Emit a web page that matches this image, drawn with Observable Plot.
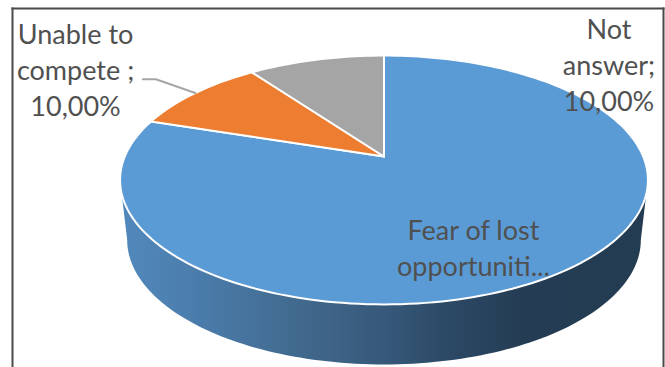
<!DOCTYPE html>
<html>
<head>
<meta charset="utf-8">
<script src="https://cdn.jsdelivr.net/npm/d3@7"></script>
<script src="https://cdn.jsdelivr.net/npm/@observablehq/plot@0.6"></script>
<style>
  html, body { margin: 0; padding: 0; background: #fff; overflow: hidden; }
  svg { display: block; }
</style>
</head>
<body>
<div id="chart"></div>
<script>
// Survey answers, in the order the slices run clockwise from twelve o'clock.
const categories = ["Fear of lost opportunities", "Unable to compete", "Not answer"];
const shares = [80, 10, 10];
const sliceColors = ["#5b9bd5", "#ed7d31", "#a5a5a5"];
const labelTexts = ["Fear of lost\nopportuniti...", "Unable to\ncompete ;\n10,00%", "Not\nanswer;\n10,00%"];

// Tilted-disc projection, in pie units (radius 1 before foreshortening).
const tilt = 0.1888;
const wallDrop = 0.5;
const wallShrink = 0.973;
const rim = (f, drop = 0, shrink = 1) => {
  const a = f * 2 * Math.PI;
  const d = 1 + tilt * Math.cos(a);
  return {x: shrink * Math.sin(a) / d, y: Math.cos(a) / d - drop};
};

// One closed outline per slice, from the cumulative shares.
const total = d3.sum(shares);
const cumulative = d3.cumsum(shares).map((v) => v / total);
const sliceOutlines = categories.flatMap((name, i) => {
  const from = i ? cumulative[i - 1] : 0;
  const to = cumulative[i];
  const steps = Math.ceil((to - from) * 240);
  const arc = d3.range(steps + 1).map((s) => rim(from + (to - from) * s / steps));
  return [{x: 0, y: 0}, ...arc, {x: 0, y: 0}].map((p) => ({...p, name}));
});

// Side wall: the lower rim between the disc's two widest points, closed under the disc.
const widest = Math.acos(-tilt) / (2 * Math.PI);
const lowerRim = d3.range(121).map((s) => rim(widest + (1 - 2 * widest) * s / 120, wallDrop, wallShrink));
const wallOutline = [rim(widest), ...lowerRim, rim(1 - widest)];

// Leader from the middle of the "Unable to compete" slice's rim to its label.
const leaderEnd = rim((cumulative[0] + cumulative[1]) / 2);
const leader = [
  {x: -0.93, y: leaderEnd.y + 0.115},
  {x: -0.88, y: leaderEnd.y + 0.115},
  leaderEnd
];

// Where each label's text block is centred, in pie units.
const labelX = [0.345, -1.19, 0.868];
const labelY = [-0.746, 0.733, 0.775];
const labelRows = categories.map((name, i) => ({text: labelTexts[i], x: labelX[i], y: labelY[i]}));

// Horizontal shading of the wall, left to right.
const wallStops = [
  [0, "#5289bc"], [0.15, "#4a7cab"], [0.34, "#41698d"], [0.5, "#37597a"],
  [0.63, "#2b4864"], [0.76, "#243d54"], [1, "#233c52"]
];
const wallShade = (index, {x}) => {
  const defs = d3.create("svg:defs");
  const g = defs.append("linearGradient")
    .attr("id", "wall-shade")
    .attr("gradientUnits", "userSpaceOnUse")
    .attr("x1", x(rim(1 - widest).x)).attr("x2", x(rim(widest).x))
    .attr("y1", 0).attr("y2", 0);
  for (const [offset, color] of wallStops) {
    g.append("stop").attr("offset", offset).attr("stop-color", color);
  }
  return defs.node();
};

const chart = Plot.plot({
  width: 665,
  height: 367,
  marginTop: 8,
  marginLeft: 12,
  marginRight: 2,
  marginBottom: 0,
  style: {background: "#fff", overflow: "hidden"},
  x: {domain: [-383.5 / 259.2, 281.5 / 259.2], range: [0, 665], axis: null},
  y: {domain: [156 / 120, -211 / 120], range: [0, 367], axis: null},
  color: {domain: categories, range: sliceColors},
  marks: [
    wallShade,
    Plot.line(wallOutline, {x: "x", y: "y", fill: "url(#wall-shade)", stroke: "none", curve: "linear"}),
    Plot.line(sliceOutlines, {x: "x", y: "y", z: "name", fill: "name", stroke: "#fff", strokeWidth: 2, curve: "linear", strokeLinejoin: "round"}),
    Plot.line(leader, {x: "x", y: "y", stroke: "#a6a6a6", strokeWidth: 2, curve: "linear"}),
    Plot.text(labelRows, {
      x: "x", y: "y", text: "text",
      fontFamily: "Lato", fontSize: 27, lineHeight: 1.335,
      fill: "#505050", textAnchor: "middle", lineAnchor: "middle"
    }),
    Plot.frame({anchor: "top", stroke: "#4a4a4a", strokeWidth: 2}),
    Plot.frame({anchor: "left", stroke: "#4a4a4a", strokeWidth: 2}),
    Plot.frame({anchor: "right", stroke: "#4a4a4a", strokeWidth: 2})
  ]
});
document.getElementById("chart").append(chart);
</script>
</body>
</html>
